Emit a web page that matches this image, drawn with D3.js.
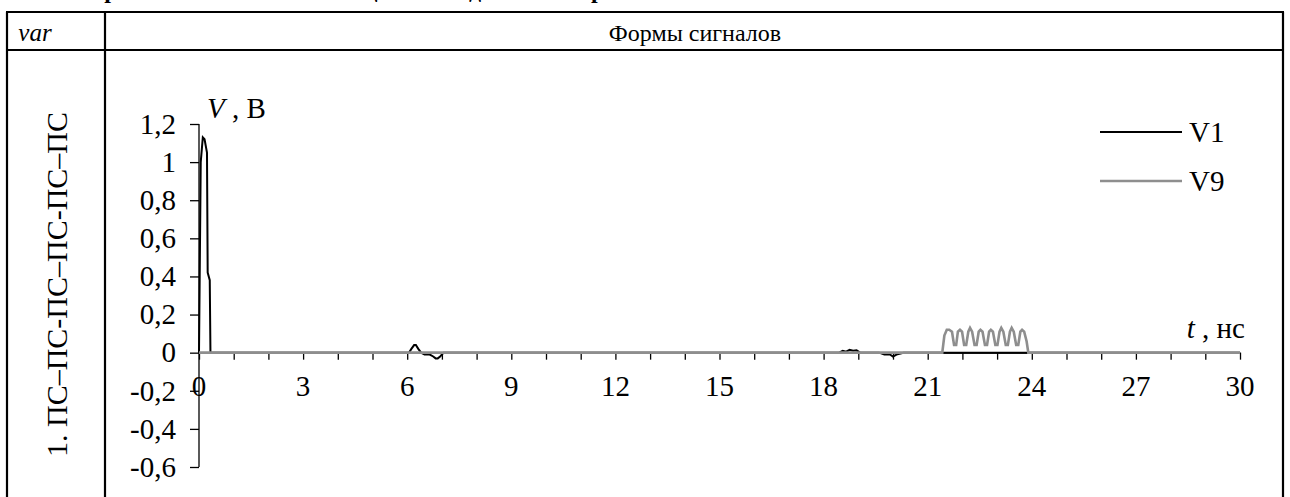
<!DOCTYPE html>
<html>
<head>
<meta charset="utf-8">
<script src="https://cdn.jsdelivr.net/npm/d3@7/dist/d3.min.js"></script>
<style>
  html, body { margin: 0; padding: 0; background: #fff; }
  svg { display: block; }
  svg text { font-family: "Liberation Serif", "Times New Roman", serif; fill: #000; }
</style>
</head>
<body>
<svg id="chart" width="1290" height="497"></svg>
<script>
// ---- data ----
const seriesNames = ["V1", "V9"];
// V1: input pulse and small reflections (time in ns, voltage in V)
const v1Time  = [0, 0.02, 0.05, 0.11, 0.16, 0.23, 0.25, 0.31, 0.33, 6.05, 6.12, 6.2, 6.25, 6.32, 6.4, 6.5, 6.65, 6.75, 6.82, 6.88, 6.95, 7.05, 18.45, 18.55, 18.65, 18.75, 18.85, 18.95, 19.05, 19.6, 19.75, 19.9, 20.0, 20.1, 20.3, 30];
const v1Value = [0, 0.40, 1.00, 1.13, 1.12, 1.05, 0.42, 0.38, 0, 0, 0.02, 0.04, 0.04, 0.02, 0, -0.01, -0.01, -0.02, -0.03, -0.03, -0.02, 0, 0, 0.01, 0.005, 0.015, 0.01, 0.012, 0, 0, -0.01, -0.008, -0.02, -0.01, 0, 0];
// V9: output at the far end
const v9Time  = [0, 21.42, 21.48, 21.55, 21.62, 21.7, 21.76, 21.82, 21.87, 21.93, 21.99, 22.05, 22.11, 22.17, 22.22, 22.28, 22.35, 22.41, 22.47, 22.52, 22.58, 22.65, 22.71, 22.77, 22.82, 22.88, 22.95, 23.01, 23.07, 23.12, 23.18, 23.25, 23.31, 23.37, 23.42, 23.48, 23.55, 23.61, 23.67, 23.72, 23.78, 23.85, 23.9, 30];
const v9Value = [0, 0, 0.09, 0.12, 0.12, 0.11, 0.04, 0.04, 0.11, 0.12, 0.11, 0.04, 0.04, 0.11, 0.13, 0.11, 0.04, 0.04, 0.11, 0.12, 0.11, 0.04, 0.04, 0.11, 0.12, 0.11, 0.04, 0.04, 0.11, 0.13, 0.11, 0.04, 0.04, 0.11, 0.13, 0.11, 0.04, 0.04, 0.11, 0.12, 0.11, 0.06, 0, 0];
const yTicks = [-0.6, -0.4, -0.2, 0, 0.2, 0.4, 0.6, 0.8, 1.0, 1.2];
const xMinorTicks = d3.range(0, 31, 1);
const xLabels = [0, 3, 6, 9, 12, 15, 18, 21, 24, 27, 30];
const rowLabel = "1. ПС–ПС-ПС–ПС-ПС–ПС";
const headerVar = "var";
const headerTitle = "Формы сигналов";
const captionText = "Напряжения в начале и конце линии для всех вариантов";

const svg = d3.select("#chart");
const serif = "Liberation Serif, Times New Roman, serif";
const fs = 29;

// ---- table frame ----
const tbl = { left: 7, col: 105, right: 1283, top: 12, head: 50, bottom: 497 };
svg.append("text")
  .attr("x", 60).attr("y", -2)
  .attr("font-family", serif)
  .attr("font-size", 24).attr("font-weight", "bold")
  .text(captionText);

const frame = svg.append("g").attr("stroke", "#000").attr("stroke-width", 2.2);
frame.append("line").attr("x1", tbl.left - 1).attr("x2", tbl.right + 1).attr("y1", tbl.top).attr("y2", tbl.top);
frame.append("line").attr("x1", tbl.left - 1).attr("x2", tbl.right + 1).attr("y1", tbl.head).attr("y2", tbl.head);
frame.append("line").attr("x1", tbl.left).attr("x2", tbl.left).attr("y1", tbl.top).attr("y2", tbl.bottom);
frame.append("line").attr("x1", tbl.col).attr("x2", tbl.col).attr("y1", tbl.top).attr("y2", tbl.bottom);
frame.append("line").attr("x1", tbl.right).attr("x2", tbl.right).attr("y1", tbl.top).attr("y2", tbl.bottom);

svg.append("text").attr("x", 35).attr("y", 41).attr("text-anchor", "middle")
  .attr("font-family", serif)
  .attr("font-size", 25).attr("font-style", "italic").text(headerVar);
svg.append("text").attr("x", 695).attr("y", 41).attr("text-anchor", "middle")
  .attr("font-family", serif)
  .attr("font-size", 24).text(headerTitle);

svg.append("text")
  .attr("transform", "translate(67,457) rotate(-90)")
  .attr("font-family", serif)
  .attr("font-size", 30).text(rowLabel);

// ---- chart ----
const x = d3.scaleLinear().domain([0, 30]).range([199, 1240]);
const y = d3.scaleLinear().domain([-0.6, 1.2]).range([467, 124]);
const fmt = d => String(+d.toFixed(1)).replace(".", ",");

const yAxis = svg.append("g")
  .attr("transform", `translate(${x(0)},0)`)
  .call(d3.axisLeft(y).tickValues(yTicks).tickSize(9).tickPadding(14).tickFormat(fmt));
yAxis.attr("font-family", serif);
yAxis.select(".domain").attr("d", `M0,${y(1.2)}V${y(-0.6)}`).attr("stroke", "#000").attr("stroke-width", 1.3);
yAxis.selectAll(".tick line").attr("stroke", "#000").attr("stroke-width", 1.3);
yAxis.selectAll(".tick text").attr("font-size", fs).attr("fill", "#000").attr("font-family", serif);

const xAxis = svg.append("g")
  .attr("transform", `translate(0,${y(0)})`)
  .call(d3.axisBottom(x).tickValues(xMinorTicks).tickSize(7).tickSizeOuter(0).tickFormat(""));
xAxis.select(".domain").attr("stroke", "#000").attr("stroke-width", 1.3);
xAxis.selectAll(".tick line").attr("stroke", "#000").attr("stroke-width", 1.3);

svg.append("g").selectAll("text").data(xLabels).join("text")
  .attr("x", d => x(d)).attr("y", 396)
  .attr("font-family", serif)
  .attr("text-anchor", "middle").attr("font-size", fs)
  .text(d => d);

const line = d3.line().x(d => x(d[0])).y(d => y(d[1]));
const v1 = v1Time.map((t, i) => [t, v1Value[i]]);
const v9 = v9Time.map((t, i) => [t, v9Value[i]]);

svg.append("path").datum(v1).attr("d", line)
  .attr("fill", "none").attr("stroke", "#000").attr("stroke-width", 2);
svg.append("path").datum(v9).attr("d", line)
  .attr("fill", "none").attr("stroke", "#8e8e8e").attr("stroke-width", 2.6);

// axis titles
const vt = svg.append("text").attr("x", 207).attr("y", 118).attr("font-size", fs).attr("font-family", serif);
vt.append("tspan").attr("font-style", "italic").text("V");
vt.append("tspan").text(" , В");
const tt = svg.append("text").attr("x", 1245).attr("y", 338).attr("font-size", fs)
  .attr("font-family", serif).attr("text-anchor", "end");
tt.append("tspan").attr("font-style", "italic").text("t");
tt.append("tspan").text(" , нс");

// ---- legend ----
const legend = svg.append("g");
const legendStyles = [{ stroke: "#000", width: 2, y: 132 }, { stroke: "#8e8e8e", width: 2.6, y: 181 }];
seriesNames.forEach((name, i) => {
  const s = legendStyles[i];
  legend.append("line").attr("x1", 1100).attr("x2", 1182).attr("y1", s.y).attr("y2", s.y)
    .attr("stroke", s.stroke).attr("stroke-width", s.width);
  legend.append("text").attr("x", 1189).attr("y", s.y + 10).attr("font-size", fs)
    .attr("font-family", serif).text(name);
});
</script>
</body>
</html>
